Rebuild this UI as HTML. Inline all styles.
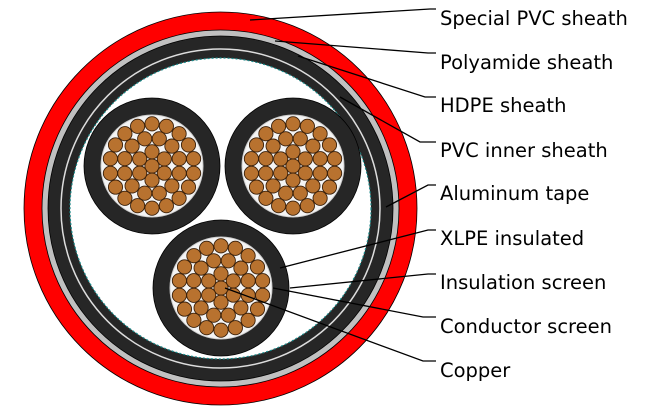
<!DOCTYPE html>
<html><head><meta charset="utf-8"><style>
html,body{margin:0;padding:0;background:#fff;width:654px;height:416px;overflow:hidden}
svg{display:block}
text{font-family:"DejaVu Sans","Liberation Sans",sans-serif;font-size:19.5px;fill:#000}
</style></head><body>
<svg id="s" width="654" height="416" viewBox="0 0 654 416" xmlns="http://www.w3.org/2000/svg">
<g stroke="#000" stroke-width="0.8">
<circle cx="220.5" cy="208.5" r="196.5" fill="#ff0000"/>
<circle cx="220.5" cy="208.5" r="178.5" fill="#c0c0c0"/>
<circle cx="220.5" cy="208.5" r="172.5" fill="#262626"/>
<circle cx="220.5" cy="208.5" r="159.5" fill="none" stroke="#ddd" stroke-width="1.5"/>
<circle cx="220.5" cy="208.5" r="150.5" fill="#fff" stroke="#1a8a8a" stroke-width="1.2" stroke-dasharray="2 2"/>
</g>
<g id="cores"></g>
<g stroke="#000" stroke-width="1.3" fill="none">
<polyline points="250,20 430,9 436,9"/>
<polyline points="275,41 428,53 436,53"/>
<polyline points="298,56 425,97 436,97"/>
<polyline points="340,97 420,142 436,142"/>
<polyline points="386,207 428,185 436,185"/>
<polyline points="280,268 428,230 436,230"/>
<polyline points="290,288 428,274 436,274"/>
<polyline points="273,288 423,317 436,317"/>
<polyline points="225,288 423,361 436,361"/>
</g>
<text x="440" y="25">Special PVC sheath</text>
<text x="440" y="69">Polyamide sheath</text>
<text x="440" y="112">HDPE sheath</text>
<text x="440" y="157">PVC inner sheath</text>
<text x="440" y="200">Aluminum tape</text>
<text x="440" y="245">XLPE insulated</text>
<text x="440" y="289">Insulation screen</text>
<text x="440" y="333">Conductor screen</text>
<text x="440" y="377">Copper</text>
</svg>
<script>
var g=document.getElementById('cores'),ns="http://www.w3.org/2000/svg",h='';
[[152,166],[293,166],[221,288]].forEach(function(c){
 h+='<circle cx="'+c[0]+'" cy="'+c[1]+'" r="68" fill="#262626" stroke="#000" stroke-width="0.8"/>';
 h+='<circle cx="'+c[0]+'" cy="'+c[1]+'" r="51" fill="#f4f4f4" stroke="#ccc" stroke-width="1"/>';
 var rings=[[0,1],[14.2,6],[28.2,12],[42.2,18]];
 rings.forEach(function(r){for(var i=0;i<r[1];i++){var a=-Math.PI/2+i*2*Math.PI/r[1]+(r[1]==12?Math.PI/12:0);
  h+='<circle cx="'+(c[0]+r[0]*Math.cos(a)).toFixed(1)+'" cy="'+(c[1]+r[0]*Math.sin(a)).toFixed(1)+'" r="7.1" fill="#b8722f" stroke="#3a200a" stroke-width="0.9"/>';}});
});
g.innerHTML=h;
</script>
</body></html>
